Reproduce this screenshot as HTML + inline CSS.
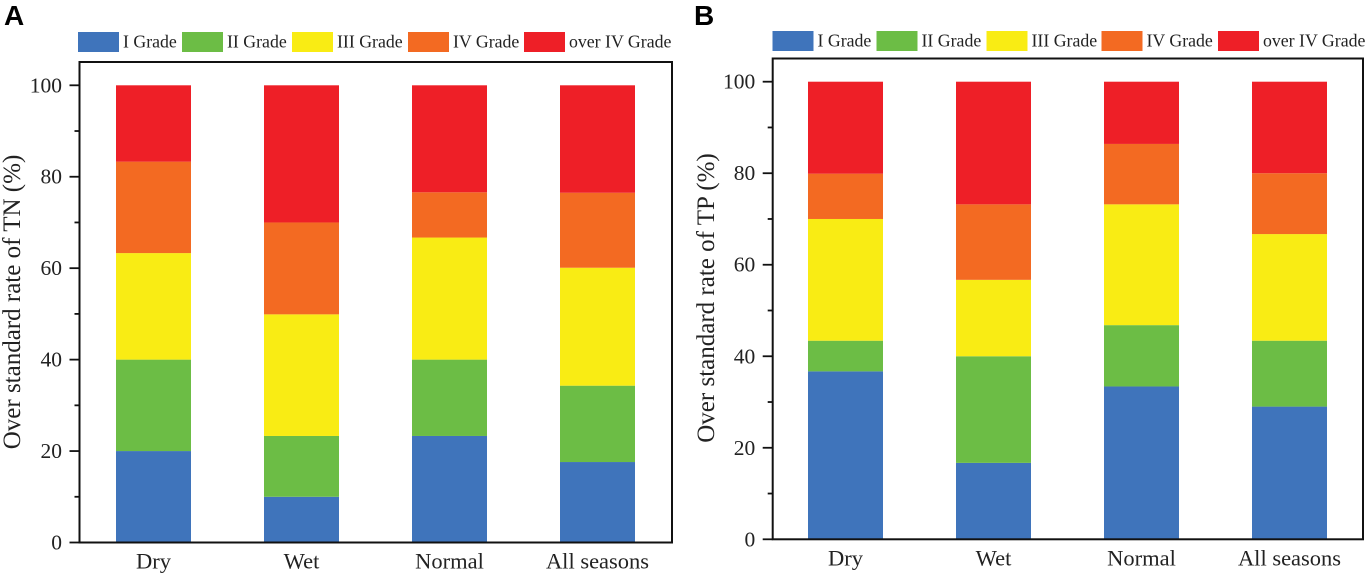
<!DOCTYPE html>
<html>
<head>
<meta charset="utf-8">
<title>Over standard rate of TN and TP</title>
<style>
html,body{margin:0;padding:0;background:#fff;width:1367px;height:575px;overflow:hidden}
svg{display:block}
text{font-family:"Liberation Serif",serif;fill:#222}
</style>
</head>
<body>
<svg id="chart" width="1367" height="575" viewBox="0 0 1367 575" xmlns="http://www.w3.org/2000/svg"></svg>
<script>
const categories = ['Dry', 'Wet', 'Normal', 'All seasons'];
const grades = ['I Grade', 'II Grade', 'III Grade', 'IV Grade', 'over IV Grade'];
const gradeColors = ['#3f74bb', '#6cbd45', '#f9ec14', '#f36a22', '#ee1f27'];
const yTicks = [0, 20, 40, 60, 80, 100];
const yMinorTicks = [10, 30, 50, 70, 90];

const tnGrade1 = [20, 10, 23.3, 17.6];
const tnGrade2 = [20, 13.3, 16.7, 16.7];
const tnGrade3 = [23.3, 26.6, 26.7, 25.8];
const tnGrade4 = [20, 20.1, 9.9, 16.4];
const tnOver4 = [16.7, 30, 23.4, 23.5];

const tpGrade1 = [36.7, 16.7, 33.4, 29];
const tpGrade2 = [6.7, 23.3, 13.4, 14.4];
const tpGrade3 = [26.6, 16.7, 26.4, 23.3];
const tpGrade4 = [9.9, 16.5, 13.2, 13.3];
const tpOver4 = [20.1, 26.8, 13.6, 20];

const NS = 'http://www.w3.org/2000/svg';
const svg = document.getElementById('chart');

function make(parent, tag, attrs, txt) {
  const el = document.createElementNS(NS, tag);
  for (const k in attrs) el.setAttribute(k, attrs[k]);
  if (txt !== undefined) el.textContent = txt;
  parent.appendChild(el);
  return el;
}

function drawPanel(cfg) {
  const g = make(svg, 'g', {});
  
  

  const yScale = v => cfg.y0 - v * (cfg.y0 - cfg.y100) / 100;
  const xScale = i => cfg.firstCenter + i * cfg.step;

  const letter = make(g, 'text', {x: cfg.letterX, y: 25, 'font-size': 28, 'font-weight': 'bold', style: 'font-family:"Liberation Sans",sans-serif;fill:#000'}, cfg.letter);
  
  

  grades.forEach((name, i) => {
    const sw = make(g, 'rect', {x: cfg.legendX[i], y: cfg.legendY, width: 41, height: 20, fill: gradeColors[i]});
    
    
    const lab = make(g, 'text', {x: cfg.legendX[i] + 45, y: cfg.legendY + 15.5, 'font-size': 17.8}, name);
    
    
  });

  categories.forEach((cat, c) => {
    let acc = 0;
    cfg.series.forEach((vals, s) => {
      const top = yScale(acc + vals[c]);
      const bottom = yScale(acc);
      const bar = make(g, 'rect', {x: xScale(c) - cfg.barWidth / 2, y: top, width: cfg.barWidth, height: bottom - top, fill: gradeColors[s]});
      
      
      acc += vals[c];
    });
    const lab = make(g, 'text', {x: xScale(c), y: cfg.y0 + 26, 'font-size': 22.5, 'text-anchor': 'middle'}, cat);
    
    
  });

  const frame = make(g, 'rect', {x: cfg.left, y: cfg.top, width: cfg.right - cfg.left, height: cfg.y0 - cfg.top, fill: 'none', stroke: '#111', 'stroke-width': 2});
  
  

  yTicks.forEach(v => {
    const t = make(g, 'line', {x1: cfg.left - 10, x2: cfg.left, y1: yScale(v), y2: yScale(v), stroke: '#111', 'stroke-width': 1.8});
    
    
    const lab = make(g, 'text', {x: cfg.left - 17.5, y: yScale(v) + 7, 'font-size': 21.5, 'text-anchor': 'end'}, String(v));
    
    
  });
  yMinorTicks.forEach(v => {
    const t = make(g, 'line', {x1: cfg.left - 5, x2: cfg.left, y1: yScale(v), y2: yScale(v), stroke: '#111', 'stroke-width': 1.8});
    
    
  });

  const cy = cfg.titleY;
  const title = make(g, 'text', {x: cfg.titleX, y: cy, 'font-size': 25, 'text-anchor': 'middle', transform: 'rotate(-90 ' + cfg.titleX + ' ' + cy + ')'}, cfg.title);
  
  
}

drawPanel({
  id: 'tn', letter: 'A', letterX: 4, title: 'Over standard rate of TN (%)',
  left: 79.5, right: 672, top: 62, y0: 542.5, y100: 85.3,
  firstCenter: 153.5, step: 148, barWidth: 75,
  legendX: [78, 182, 292, 408, 524], legendY: 32,
  titleX: 20, titleY: 302,
  series: [tnGrade1, tnGrade2, tnGrade3, tnGrade4, tnOver4]
});

drawPanel({
  id: 'tp', letter: 'B', letterX: 694, title: 'Over standard rate of TP (%)',
  left: 772.7, right: 1363, top: 58.5, y0: 539.3, y100: 81.7,
  firstCenter: 845.5, step: 148, barWidth: 75,
  legendX: [772.5, 876.5, 986.5, 1101.5, 1218], legendY: 31,
  titleX: 714, titleY: 298,
  series: [tpGrade1, tpGrade2, tpGrade3, tpGrade4, tpOver4]
});
</script>
</body>
</html>
